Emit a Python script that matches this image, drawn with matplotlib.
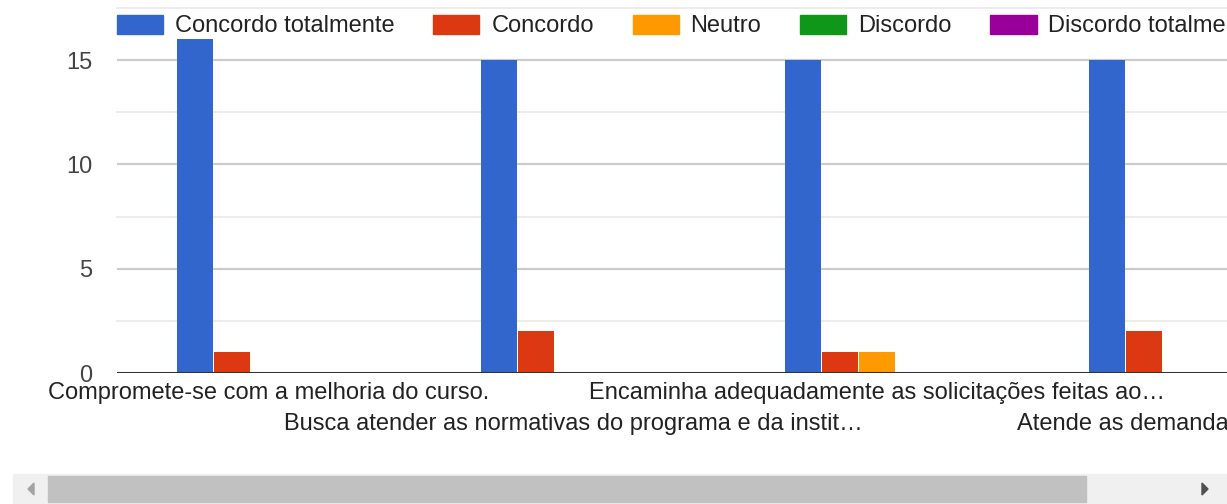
import matplotlib
matplotlib.use("Agg")
import matplotlib.pyplot as plt
import matplotlib.patches as patches
import numpy as np

plt.rcParams["font.family"] = ["Liberation Sans", "DejaVu Sans"]

# dados
categorias = [
    "Compromete-se com a melhoria do curso.",
    "Busca atender as normativas do programa e da instit…",
    "Encaminha adequadamente as solicitações feitas ao…",
    "Atende as demandas do curso.",
]
series = ["Concordo totalmente", "Concordo", "Neutro", "Discordo", "Discordo totalmente"]
concordo_totalmente = [16, 15, 15, 15]
concordo = [1, 2, 1, 2]
neutro = [0, 0, 1, 0]
discordo = [0, 0, 0, 0]
discordo_totalmente = [0, 0, 0, 0]
valores = [concordo_totalmente, concordo, neutro, discordo, discordo_totalmente]
cores = ["#3366cc", "#dc3912", "#ff9900", "#109618", "#990099"]

FS = 17
W, H = 1227, 504
fig = plt.figure(figsize=(W / 100, H / 100), dpi=100)
ax = fig.add_axes([117 / W, 1 - 373 / H, 1 - 117 / W, (373 - 8) / H])

x = np.arange(len(categorias))
bw = 37 / 304
for i, (nome, vals, cor) in enumerate(zip(series, valores, cores)):
    ax.bar(x + (i - 2) * bw, vals, width=bw - 1 / 304, color=cor, label=nome, zorder=3)

ax.set_xlim(-0.5, -0.5 + (W - 117) / 304)
ax.set_ylim(0, 17.5)

# grade
for v in [2.5, 7.5, 12.5, 17.5]:
    ax.axhline(v, color="#ebebeb", lw=1.3, zorder=1, clip_on=False)
for v in [5, 10, 15]:
    ax.axhline(v, color="#cccccc", lw=1.6, zorder=1)
ax.axhline(0, color="#333333", lw=2.2, zorder=4)

for s in ax.spines.values():
    s.set_visible(False)

ax.set_yticks([0, 5, 10, 15])
ax.set_yticklabels(["0", "5", "10", "15"], fontsize=FS, color="#444444")
ax.tick_params(axis="y", length=0, pad=18)

# rótulos alternados em duas linhas
ax.set_xticks(x[0::2])
ax.set_xticklabels(categorias[0::2], fontsize=FS, color="#222222")
ax.set_xticks(x[1::2], minor=True)
ax.set_xticklabels(categorias[1::2], minor=True, fontsize=FS, color="#222222")
ax.tick_params(axis="x", which="major", length=0, pad=6.5)
ax.tick_params(axis="x", which="minor", length=0, pad=28.5)

# legenda
handles = [patches.Patch(facecolor=c, edgecolor=c) for c in cores]
fig.legend(handles, series, loc="center left", bbox_to_anchor=(117 / W, 1 - 26 / H),
           ncol=5, frameon=False, fontsize=FS, handlelength=1.95, handleheight=0.85,
           handletextpad=0.5, columnspacing=1.65, labelcolor="#222222",
           borderaxespad=0, borderpad=0)

# barra de rolagem
sb = fig.add_axes([0, 0, 1, 1], zorder=-1)
sb.set_xlim(0, W)
sb.set_ylim(H, 0)
sb.axis("off")
sb.add_patch(patches.Rectangle((13, 474), W - 13, 30, color="#f0f0f0"))
sb.add_patch(patches.Rectangle((48, 476), 1038, 26, color="#c1c1c1"))
sb.add_patch(patches.Polygon([(34, 483), (34, 495), (28, 489)], color="#a3a3a3"))
sb.add_patch(patches.Polygon([(1202, 483), (1202, 495), (1208, 489)], color="#505050"))

fig.savefig("out.png", dpi=100)
